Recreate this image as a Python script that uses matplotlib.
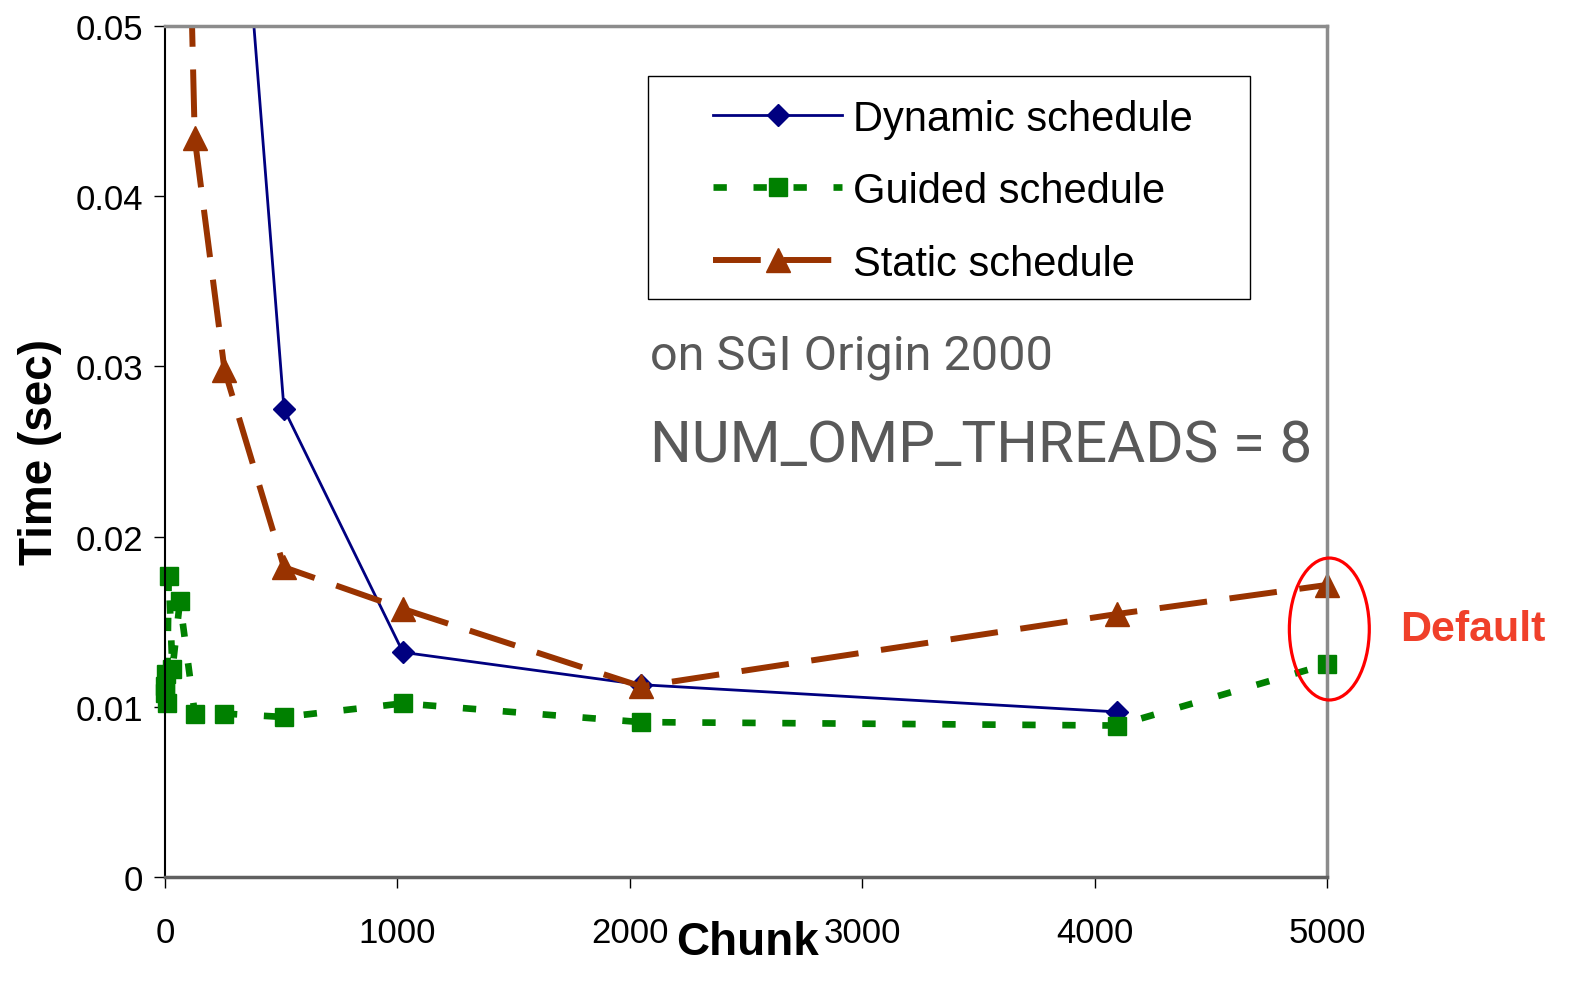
import numpy as np
import matplotlib
matplotlib.use("Agg")
import matplotlib.pyplot as plt
from matplotlib.patches import Ellipse, Rectangle

plt.rcParams['font.family'] = ['Liberation Sans', 'DejaVu Sans']

# chunk sizes (5000 = default chunk)
chunk = [1, 2, 4, 8, 16, 32, 64, 128, 256, 512, 1024, 2048, 4096, 5000]

dynamic = [0.32, 0.17, 0.11, 0.085, 0.078, 0.075, 0.074, 0.073, 0.072,
           0.0275, 0.0132, 0.0113, 0.0097, np.nan]
guided = [0.0108, 0.0112, 0.0119, 0.0102, 0.0177, 0.0122, 0.0162,
          0.0096, 0.0096, 0.0094, 0.0102, 0.0091, 0.0089, 0.0125]
static = [0.9, 0.45, 0.25, 0.16, 0.12, 0.10, 0.08, 0.0434, 0.0298,
          0.0182, 0.01575, 0.0112, 0.01545, 0.01716]

xticks = [0, 1000, 2000, 3000, 4000, 5000]
yticks = [0, 0.01, 0.02, 0.03, 0.04, 0.05]
ytick_labels = ['0', '0.01', '0.02', '0.03', '0.04', '0.05']

W, H = 1594, 987
fig = plt.figure(figsize=(W / 100, H / 100), dpi=100)
ax = fig.add_axes([165 / W, 1 - 878 / H, (1327 - 165) / W, (878 - 27) / H])

c_dyn = '#000080'
c_gui = '#008000'
c_sta = '#993300'

# let markers on the left/right edges show fully, lines still cut at the top
clip = Rectangle((-0.03, -0.03), 1.06, 1.03, transform=ax.transAxes,
                 facecolor='none', edgecolor='none')

l1, = ax.plot(chunk, dynamic, color=c_dyn, lw=2.0, marker='D', ms=11.5,
              label='Dynamic schedule')
l2, = ax.plot(chunk, guided, color=c_gui, lw=4.8, ls=(0, (2, 4)), marker='s',
              ms=13, label='Guided schedule')
l3, = ax.plot(chunk, static, color=c_sta, lw=4.3, ls=(0, (8, 3.8)), marker='^',
              ms=17, label='Static schedule')
for ln in (l1, l2, l3):
    ln.set_clip_path(clip)

ax.set_xlim(0, 5000)
ax.set_ylim(0, 0.05)
ax.set_xticks(xticks)
ax.set_yticks(yticks)
ax.set_yticklabels(ytick_labels)
ax.tick_params(axis='both', direction='out', length=8, width=1,
               labelsize=25, color='black')
ax.tick_params(axis='x', pad=20)
ax.tick_params(axis='y', pad=8)

for side in ('top', 'right'):
    ax.spines[side].set_color('#8c8c8c')
    ax.spines[side].set_linewidth(2.5)
ax.spines['left'].set_color('black')
ax.spines['left'].set_linewidth(1.5)
ax.spines['bottom'].set_color('#606060')
ax.spines['bottom'].set_linewidth(2.5)

fig.text(747 / W, 1 - 943 / H, 'Chunk', ha='center', va='center',
         fontsize=33, fontweight='bold')
fig.text(40 / W, 1 - 452 / H, 'Time (sec)', ha='center', va='center',
         rotation=90, fontsize=33, fontweight='bold')

# legend with its own box
fig.patches.append(Rectangle((648 / W, 1 - 300 / H), (1250 - 648) / W,
                             (300 - 77) / H, transform=fig.transFigure,
                             facecolor='white', edgecolor='black', lw=1,
                             zorder=3))
leg = fig.legend(handles=[l1, l2, l3], loc='center left',
                 bbox_to_anchor=(713 / W, 1 - 192 / H), frameon=False,
                 fontsize=30, handlelength=3.1, handletextpad=0.25,
                 labelspacing=0.78, borderpad=0, borderaxespad=0, numpoints=1)
leg.set_zorder(4)

fig.text(650 / W, 1 - 357 / H, 'on SGI Origin 2000', ha='left', va='center',
         fontsize=35, color='#595959', family=['Roboto', 'DejaVu Sans'])
fig.text(650 / W, 1 - 446 / H, 'NUM_OMP_THREADS = 8', ha='left', va='center',
         fontsize=42, color='#595959', family=['Roboto', 'DejaVu Sans'])

# default chunk highlight
ax.add_patch(Ellipse((5010, 0.01457), 344, 0.00834, facecolor='none',
                     edgecolor='#ff0000', lw=2.3, clip_on=False, zorder=5))
fig.text(1400 / W, 1 - 630 / H, 'Default', ha='left', va='center',
         fontsize=31, fontweight='bold', color='#f0402a')

fig.savefig('out.png', dpi=100)
